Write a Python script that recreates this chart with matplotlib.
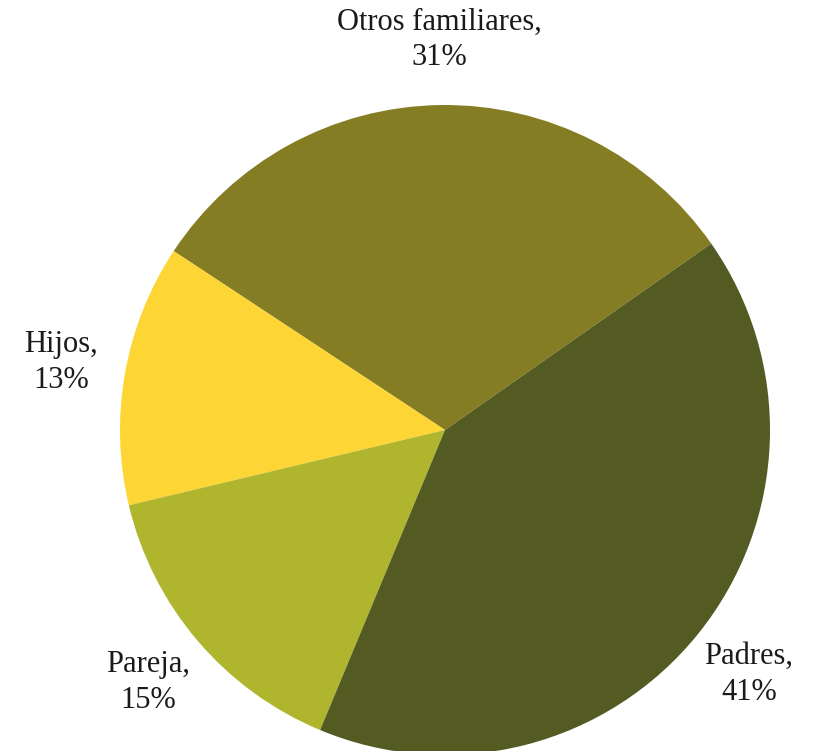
import matplotlib.pyplot as plt

# data
labels = ['Otros familiares', 'Hijos', 'Pareja', 'Padres']
shares = [31, 13, 15, 41]
colors = ['#857d24', '#fdd535', '#b0b52e', '#535a22']

plt.rcParams['font.family'] = ['Liberation Serif', 'DejaVu Serif']

fig = plt.figure(figsize=(8.29, 7.51), dpi=100)
ax = fig.add_axes([0, 0, 1, 1])

texts = [f'{l},\n{s}%' for l, s in zip(labels, shares)]
wedges, lbls = ax.pie(shares, labels=texts, colors=colors, startangle=35,
                      counterclock=True, center=(445, 321), radius=325,
                      labeldistance=1.2, frame=True,
                      textprops={'fontsize': 22, 'color': '#1a1a1a'})
for t in lbls:
    t.set_horizontalalignment('center')
    t.set_verticalalignment('center')
    t.set_linespacing(1.3)

ax.set_xlim(0, 829)
ax.set_ylim(0, 751)
ax.set_aspect('equal')
ax.axis('off')

fig.savefig('out.png', dpi=100)
